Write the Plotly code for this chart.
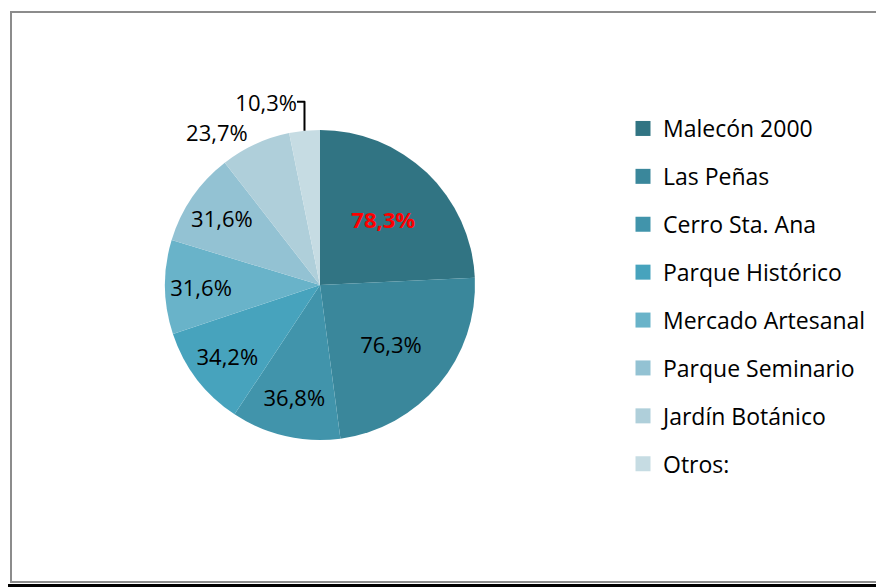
import plotly.graph_objects as go

categories = ["Malecón 2000", "Las Peñas", "Cerro Sta. Ana", "Parque Histórico",
              "Mercado Artesanal", "Parque Seminario", "Jardín Botánico", "Otros:"]
values = [78.3, 76.3, 36.8, 34.2, 31.6, 31.6, 23.7, 10.3]
value_labels = ["<b>78,3%</b>", "76,3%", "36,8%", "34,2%", "31,6%", "31,6%", "23,7%", "10,3%"]
colors = ["#317483", "#3a879b", "#4194ab", "#47a3bd", "#69b3c9", "#93c2d3", "#afcfda", "#c6dce3"]
text_colors = ["#ff0000", "black", "black", "black", "black", "black", "black", "black"]
text_pos = ["inside"] * 6 + ["outside", "outside"]

# page body has an 8px margin, so the figure is drawn 8px in from the window corner
OFF = 8
W, H = 884 - OFF, 587 - OFF
FONT = "Open Sans"


def px(x):
    return (x - OFF) / W


def py(y):
    return 1 - (y - OFF) / H


fig = go.Figure()

R = 155
CX, CY = 320, 285
fig.add_trace(go.Pie(
    labels=categories, values=values, text=value_labels,
    texttemplate="%{text}", textposition=text_pos,
    insidetextorientation="horizontal",
    textfont=dict(family=FONT, size=22, color=text_colors),
    marker=dict(colors=colors, line=dict(width=0)),
    sort=False, direction="clockwise", rotation=0,
    showlegend=False, hoverinfo="label+text",
    domain=dict(x=[px(CX - R), px(CX + R)], y=[py(CY + R), py(CY - R)]),
))

# legend entries (one per category)
for name, c in zip(categories, colors):
    fig.add_trace(go.Scatter(
        x=[None], y=[None], mode="markers", name=name, legendgroup=name,
        marker=dict(symbol="square", size=15, color=c),
    ))

shapes = [
    dict(type="rect", xref="paper", yref="paper", x0=px(11), x1=1.02,
         y0=py(582), y1=py(12), line=dict(color="#8c8c8c", width=2), layer="below"),
    dict(type="rect", xref="paper", yref="paper", x0=-0.02, x1=1.02,
         y0=-0.02, y1=py(584), fillcolor="black", line=dict(width=0)),
]

fig.update_layout(
    width=W, height=H, margin=dict(l=0, r=0, t=0, b=0),
    paper_bgcolor="white", plot_bgcolor="white",
    xaxis=dict(visible=False), yaxis=dict(visible=False),
    font=dict(family=FONT, color="black"),
    legend=dict(x=px(623), xanchor="left", y=py(107), yanchor="top",
                font=dict(family=FONT, size=23, color="black"),
                tracegroupgap=15, bgcolor="rgba(0,0,0,0)"),
    shapes=shapes,
)

fig.write_html("out.html")
